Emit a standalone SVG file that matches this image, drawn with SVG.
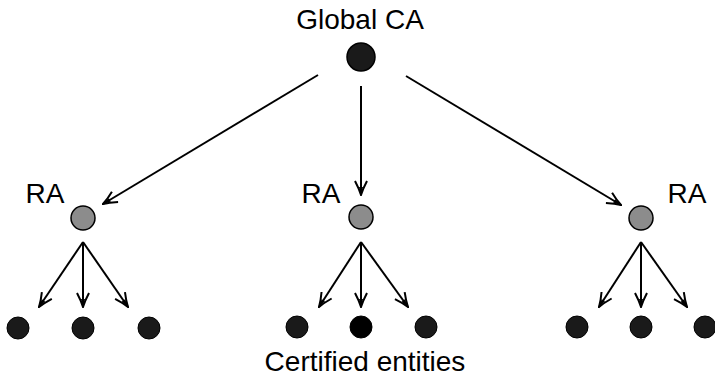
<svg xmlns="http://www.w3.org/2000/svg" width="715" height="376" viewBox="0 0 715 376">
<defs>
<style>
text{font-family:"Liberation Sans",Arial,sans-serif;font-size:28px;fill:#000}
.e{stroke:#000;stroke-width:2;fill:none}
.root{fill:#1a1a1a;stroke:#000;stroke-width:1.5}
.ra{fill:#8c8c8c;stroke:#000;stroke-width:1.5}
.leaf{fill:#1a1a1a;stroke:#000;stroke-width:1}
</style>
<marker id="ah" viewBox="-15 -8 16 16" refX="0" refY="0" markerWidth="16" markerHeight="16" markerUnits="userSpaceOnUse" orient="auto">
<path d="M-14,-6 Q-6,-1.8 0,0 Q-6,1.8 -14,6" fill="none" stroke="#000" stroke-width="2"/>
<path d="M0,0 L-8,-2 L-8,2 Z" fill="#000"/>
</marker>
</defs>
<g id="connectors">
<line class="e" x1="318" y1="75" x2="103" y2="204" marker-end="url(#ah)"/>
<line class="e" x1="361" y1="86" x2="361" y2="195" marker-end="url(#ah)"/>
<line class="e" x1="406" y1="76" x2="621" y2="205" marker-end="url(#ah)"/>
<line class="e" x1="83" y1="242" x2="39" y2="307" marker-end="url(#ah)"/>
<line class="e" x1="83" y1="242" x2="83" y2="307" marker-end="url(#ah)"/>
<line class="e" x1="83" y1="242" x2="128" y2="307" marker-end="url(#ah)"/>
<line class="e" x1="361" y1="242" x2="319" y2="307" marker-end="url(#ah)"/>
<line class="e" x1="361" y1="242" x2="361" y2="307" marker-end="url(#ah)"/>
<line class="e" x1="361" y1="242" x2="408" y2="307" marker-end="url(#ah)"/>
<line class="e" x1="641" y1="242" x2="599" y2="307" marker-end="url(#ah)"/>
<line class="e" x1="641" y1="242" x2="641" y2="307" marker-end="url(#ah)"/>
<line class="e" x1="641" y1="242" x2="687" y2="307" marker-end="url(#ah)"/>
</g>
<g id="global-ca">
<circle class="root" cx="361" cy="57" r="14"/>
<text x="360" y="29" text-anchor="middle">Global CA</text>
</g>
<g id="ra1">
<circle class="ra" cx="83" cy="218" r="12"/>
<text x="45" y="203" text-anchor="middle">RA</text>
</g>
<g id="ra2">
<circle class="ra" cx="361" cy="217" r="12"/>
<text x="321" y="203" text-anchor="middle">RA</text>
</g>
<g id="ra3">
<circle class="ra" cx="641" cy="218" r="12"/>
<text x="687" y="203" text-anchor="middle">RA</text>
</g>
<g id="leaves1">
<circle class="leaf" cx="18" cy="328" r="11"/>
<circle class="leaf" cx="83" cy="328" r="11"/>
<circle class="leaf" cx="149" cy="328" r="11"/>
</g>
<g id="leaves2">
<circle class="leaf" cx="297" cy="327" r="11"/>
<circle class="leaf" cx="361" cy="327" r="11" style="fill:#000"/>
<circle class="leaf" cx="426" cy="327" r="11"/>
</g>
<g id="leaves3">
<circle class="leaf" cx="577" cy="327" r="11"/>
<circle class="leaf" cx="641" cy="327" r="11"/>
<circle class="leaf" cx="705" cy="327" r="11"/>
</g>
<g id="label">
<text x="365" y="371" text-anchor="middle">Certified entities</text>
</g>
</svg>
